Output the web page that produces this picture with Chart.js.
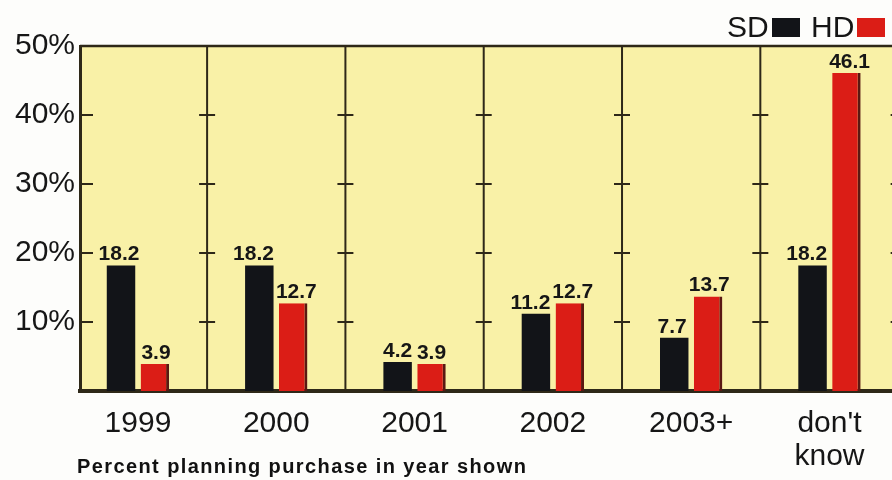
<!DOCTYPE html>
<html>
<head>
<meta charset="utf-8">
<script src="https://cdn.jsdelivr.net/npm/chart.js@4/dist/chart.umd.min.js"></script>
<style>
  html, body { margin: 0; padding: 0; background: #fdfdfb; overflow: hidden; }
  #wrap { position: relative; width: 892px; height: 480px; }
  .lg { position: absolute; top: 12px; font: 30px "Liberation Sans", Arial, sans-serif; line-height: 30px; color: #151515; }
  .box { position: absolute; top: 18px; width: 28px; height: 19px; }
  #caption { position: absolute; left: 77px; top: 456px; font: bold 20px "Liberation Sans", Arial, sans-serif;
             line-height: 20px; letter-spacing: 1.4px; color: #111; white-space: nowrap; }
</style>
</head>
<body>
<div id="wrap">
  <canvas id="chart" width="892" height="480"></canvas>
  <span class="lg" id="lg-sd" style="left:727px"></span>
  <span class="box" id="box-sd" style="left:772px"></span>
  <span class="lg" id="lg-hd" style="left:811px"></span>
  <span class="box" id="box-hd" style="left:857px"></span>
  <div id="caption">Percent planning purchase in year shown</div>
</div>
<script>
const categories = ['1999', '2000', '2001', '2002', '2003+', "don't know"];
const seriesNames = ['SD', 'HD'];
const sdValues = [18.2, 18.2, 4.2, 11.2, 7.7, 18.2];
const hdValues = [3.9, 12.7, 3.9, 12.7, 13.7, 46.1];
const yTickValues = [10, 20, 30, 40, 50];

const colors = { sd: '#121418', hd: '#db1d16', hdEdge: '#5a1812', plot: '#f9f1a7', line: '#2e2818', text: '#161616' };
const fam = '"Liberation Sans", Arial, sans-serif';

// legend (text + swatch, in that order like the print)
document.getElementById('lg-sd').textContent = seriesNames[0];
document.getElementById('lg-hd').textContent = seriesNames[1];
document.getElementById('box-sd').style.background = colors.sd;
document.getElementById('box-hd').style.background = colors.hd;

// yellow plot, top rule, year dividers with the little tick crosses
const plotFrame = {
  id: 'plotFrame',
  beforeDraw(chart) {
    const { ctx, chartArea: a } = chart;
    ctx.save();
    ctx.fillStyle = colors.plot;
    ctx.fillRect(a.left, a.top, a.right - a.left, a.bottom - a.top);
    ctx.restore();
  },
  beforeDatasetsDraw(chart) {
    const { ctx, chartArea: a, scales: { x, y } } = chart;
    const inner = yTickValues.slice(0, -1);
    ctx.save();
    ctx.strokeStyle = colors.line;
    ctx.lineWidth = 2.5;
    ctx.beginPath(); ctx.moveTo(a.left, a.top); ctx.lineTo(a.right, a.top); ctx.stroke();
    ctx.lineWidth = 2;
    for (let i = 0; i < categories.length; i++) {
      const px = x.getPixelForValue(i + 0.5);
      ctx.beginPath(); ctx.moveTo(px, a.top); ctx.lineTo(px, a.bottom); ctx.stroke();
      inner.forEach(v => {
        const py = y.getPixelForValue(v);
        ctx.beginPath(); ctx.moveTo(px - 8, py); ctx.lineTo(px + 8, py); ctx.stroke();
      });
    }
    inner.forEach(v => {
      const py = y.getPixelForValue(v);
      ctx.beginPath(); ctx.moveTo(a.left, py); ctx.lineTo(a.left + 13, py); ctx.stroke();
    });
    ctx.restore();
  }
};

// numbers above bars, nudged apart when they collide
const valueLabels = {
  id: 'valueLabels',
  afterDatasetsDraw(chart) {
    const { ctx } = chart;
    const a = chart.getDatasetMeta(0).data, b = chart.getDatasetMeta(1).data;
    ctx.save();
    ctx.font = 'bold 21px ' + fam;
    ctx.fillStyle = colors.text;
    ctx.textAlign = 'center';
    ctx.textBaseline = 'alphabetic';
    categories.forEach((_, i) => {
      const t1 = sdValues[i].toFixed(1), t2 = hdValues[i].toFixed(1);
      const w1 = ctx.measureText(t1).width, w2 = ctx.measureText(t2).width;
      let x1 = a[i].x, x2 = b[i].x;
      const overlap = (w1 + w2) / 2 + 2 - (x2 - x1);
      if (overlap > 0) { x1 -= overlap * 0.65; x2 += overlap * 0.35; }
      ctx.fillText(t1, x1, a[i].y - 5);
      ctx.fillText(t2, x2, b[i].y - 5);
    });
    ctx.restore();
  }
};

new Chart(document.getElementById('chart'), {
  type: 'bar',
  data: {
    datasets: [
      {
        label: seriesNames[0],
        data: sdValues.map((v, i) => ({ x: i, y: v })),
        backgroundColor: colors.sd,
        borderWidth: 0,
        categoryPercentage: 0.49,
        barPercentage: 0.84
      },
      {
        label: seriesNames[1],
        data: hdValues.map((v, i) => ({ x: i, y: v })),
        backgroundColor: colors.hd,
        borderColor: colors.hdEdge,
        borderWidth: { top: 0, right: 3, bottom: 0, left: 0 },
        borderSkipped: false,
        categoryPercentage: 0.49,
        barPercentage: 0.84
      }
    ]
  },
  options: {
    responsive: false,
    animation: false,
    devicePixelRatio: 1,
    layout: { padding: { top: 46, right: 0, bottom: 0, left: 0 } },
    plugins: { legend: { display: false }, tooltip: { enabled: false } },
    scales: {
      x: {
        type: 'linear',
        offset: false,
        min: -0.419,
        max: 5.452,
        grid: { display: false, drawTicks: false },
        border: { display: true, width: 4, color: colors.line },
        afterBuildTicks: s => { s.ticks = categories.map((_, i) => ({ value: i })); },
        afterFit: s => { s.height = 89; },
        ticks: {
          autoSkip: false,
          maxRotation: 0,
          padding: 16,
          color: colors.text,
          font: { family: fam, size: 30, lineHeight: 1.1 },
          callback: v => {
            const c = categories[v];
            return c.includes(' ') ? c.split(' ') : c;
          }
        }
      },
      y: {
        min: 0,
        max: 50,
        afterFit: s => { s.width = 80; },
        grid: { display: false, drawTicks: false },
        border: { display: true, width: 3, color: colors.line },
        ticks: {
          stepSize: 10,
          padding: 5,
          color: colors.text,
          font: { family: fam, size: 30 },
          callback: v => (v === 0 ? '' : v + '%')
        }
      }
    }
  },
  plugins: [plotFrame, valueLabels]
});
</script>
</body>
</html>
